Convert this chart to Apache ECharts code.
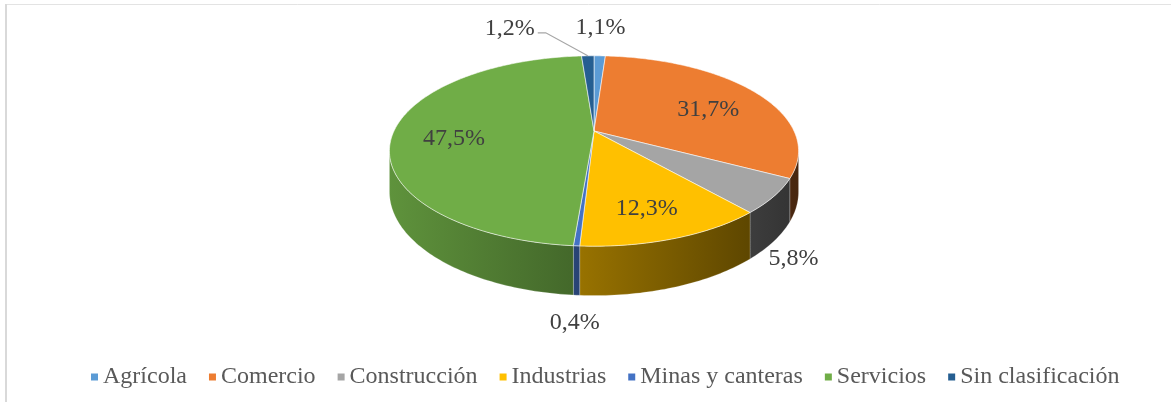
<!DOCTYPE html>
<html>
<head>
<meta charset="utf-8">
<script src="https://cdn.jsdelivr.net/npm/echarts@6/dist/echarts.min.js"></script>
<style>
  html, body { margin: 0; padding: 0; background: #fff; }
  #main { width: 1171px; height: 402px; }
</style>
</head>
<body>
<div id="main"></div>
<script>
// datos del gráfico
var categories = ['Agrícola', 'Comercio', 'Construcción', 'Industrias', 'Minas y canteras', 'Servicios', 'Sin clasificación'];
var values = [1.1, 31.7, 5.8, 12.3, 0.4, 47.5, 1.2];
var colors = ['#5B9BD5', '#ED7D31', '#A5A5A5', '#FFC000', '#4472C4', '#70AD47', '#255E91'];
var labelMode = ['out', 'in', 'out', 'in', 'out', 'in', 'lead'];   // dónde va cada etiqueta

var myChart = echarts.init(document.getElementById('main'));

// geometría del pastel 3D (perspectiva simple)
var CX = 594, CY = 131, RX = 200, RY = 91, PK = 0.21, DEPTH = 39;
var LABEL_FONT = 'Liberation Serif';
var THS = 90 + Math.asin(PK) * 180 / Math.PI;   // silueta lateral

var total = values.reduce(function (a, b) { return a + b; }, 0);
var cum = [];
values.reduce(function (acc, v, i) { cum[i] = acc; return acc + v; }, 0);

function proj(deg, f, drop) {
    var r = deg * Math.PI / 180;
    var u = f * Math.sin(r), v = f * Math.cos(r);
    var w = 1 + PK * v;
    return [CX + RX * u / w, CY + (drop - RY * v) / w];
}

function arc(a, b, f, drop) {
    var n = Math.max(2, Math.ceil(b - a) + 1), pts = [];
    for (var k = 0; k < n; k++) {
        pts.push(proj(a + (b - a) * k / (n - 1), f, drop));
    }
    return pts;
}

function shade(hex, f) {
    var n = parseInt(hex.slice(1), 16);
    var r = Math.round(((n >> 16) & 255) * f), g = Math.round(((n >> 8) & 255) * f), b = Math.round((n & 255) * f);
    return 'rgb(' + r + ',' + g + ',' + b + ')';
}

function fmt(v) {
    return v.toFixed(1).replace('.', ',') + '%';
}

function sliceRenderer(i) {
    return function (params, api) {
        var val = api.value(0);
        var a = cum[i] / total * 360;
        var b = a + val / total * 360;
        var children = [];

        // pared lateral
        var s = Math.max(a, THS), e = Math.min(b, 360 - THS);
        if (e > s) {
            var top = arc(s, e, 1, 0);
            var bottom = arc(s, e, 1, DEPTH).reverse();
            children.push({
                type: 'polygon',
                z2: 1,
                shape: { points: top.concat(bottom) },
                style: {
                    fill: {
                        type: 'linear', global: true,
                        x: CX - RX * 1.03, y: 0, x2: CX + RX * 1.03, y2: 0,
                        colorStops: [
                            { offset: 0, color: shade(colors[i], 0.85) },
                            { offset: 1, color: shade(colors[i], 0.3) }
                        ]
                    },
                    stroke: 'rgba(255,255,255,0.35)',
                    lineWidth: 0.6
                }
            });
        }

        // cara superior
        children.push({
            type: 'polygon',
            z2: 2,
            shape: { points: [proj(0, 0, 0)].concat(arc(a, b, 1, 0)) },
            style: { fill: api.visual('color'), stroke: 'rgba(255,255,255,0.7)', lineWidth: 0.8 }
        });

        // etiqueta
        var mid = (a + b) / 2;
        var r = mid * Math.PI / 180;
        var mode = labelMode[i];
        var tx, ty, align = 'center';
        if (mode === 'in') {
            var p = proj(mid, 0.7, 0);
            tx = p[0]; ty = p[1] + 8;
        } else if (mode === 'out') {
            var drop = Math.cos(r) < 0 ? DEPTH : 0;
            var q = proj(mid, 1, drop);
            tx = q[0] + Math.sin(r) * 25; ty = q[1] - Math.cos(r) * 28;
        } else {
            var anchor = proj(mid, 1, 0);
            var elbow = [anchor[0] - 42, anchor[1] - 23];
            var end = [elbow[0] - 8, elbow[1]];
            children.push({
                type: 'polyline',
                z2: 4,
                shape: { points: [anchor, elbow, end] },
                style: { stroke: '#a6a6a6', lineWidth: 1.2, fill: null }
            });
            tx = end[0] - 3; ty = end[1] - 4; align = 'right';
        }
        children.push({
            type: 'text',
            z2: 5,
            style: {
                text: fmt(val),
                x: tx, y: ty,
                align: align, verticalAlign: 'middle',
                fill: '#404040',
                fontSize: 24,
                fontFamily: LABEL_FONT
            }
        });

        return { type: 'group', children: children };
    };
}

var series = categories.map(function (name, i) {
    return {
        name: name,
        type: 'custom',
        coordinateSystem: 'none',
        itemStyle: { color: colors[i] },
        data: [values[i]],
        renderItem: sliceRenderer(i)
    };
});

var option = {
    animation: false,
    backgroundColor: '#fff',
    legend: {
        data: categories,
        top: 360,
        left: 86,
        icon: 'rect',
        itemWidth: 7,
        itemHeight: 7,
        itemGap: 22,
        textStyle: {
            fontFamily: LABEL_FONT,
            fontSize: 24,
            color: '#595959'
        }
    },
    graphic: [
        { type: 'line', shape: { x1: 6, y1: 4.5, x2: 1171, y2: 4.5 }, style: { stroke: '#e3e3e3', lineWidth: 1 } },
        { type: 'line', shape: { x1: 6, y1: 4, x2: 6, y2: 402 }, style: { stroke: '#d9d9d9', lineWidth: 2 } }
    ],
    series: series
};

myChart.setOption(option);
</script>
</body>
</html>
